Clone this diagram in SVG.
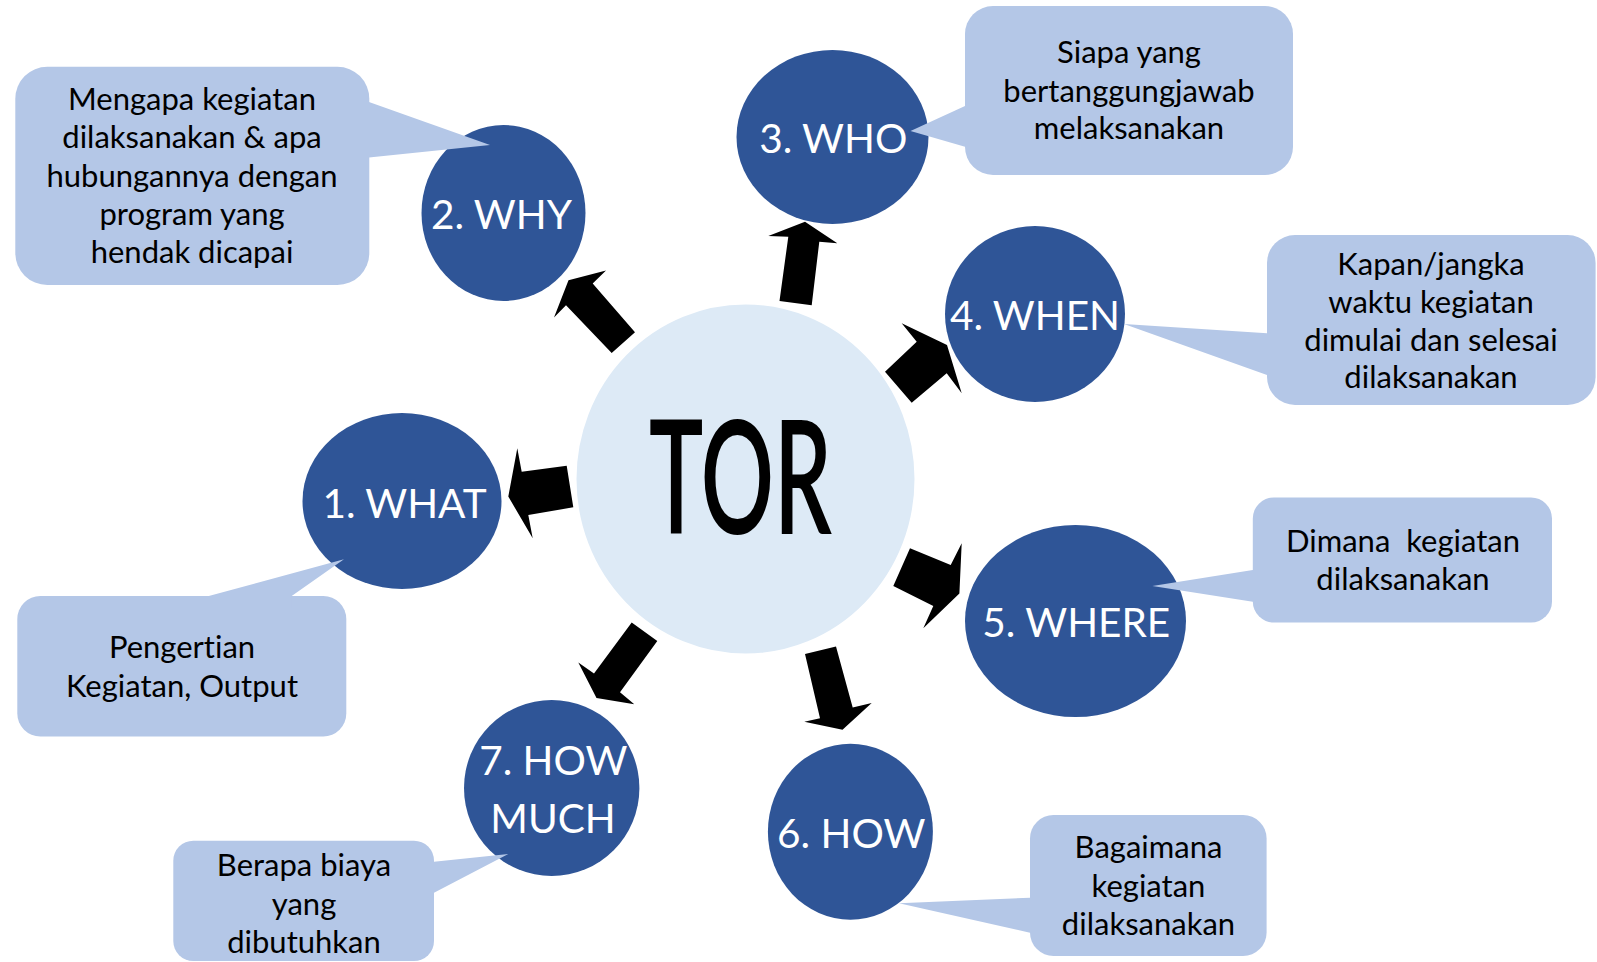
<svg xmlns="http://www.w3.org/2000/svg" width="1597" height="962" viewBox="0 0 1597 962">
<style>
.bg{fill:#FFFFFF}
.arrow{fill:#000000}
.nd{fill:#2F5597}
.lbl{font-family:Lato,"Open Sans","Liberation Sans",sans-serif;font-size:40.5px;fill:#FFFFFF;text-anchor:middle;font-variant-ligatures:none}
.co{fill:#B4C7E7}
.ct{font-family:Lato,"Open Sans","Liberation Sans",sans-serif;font-size:31px;fill:#000000;text-anchor:middle;font-variant-ligatures:none}
.tor{fill:#DDEAF6;stroke:#FFFFFF;stroke-width:3}
.tort{font-family:Lato,"Open Sans","Liberation Sans",sans-serif;font-size:159px;font-weight:600;fill:#000000;text-anchor:middle}
</style>
<rect class="bg" x="0" y="0" width="1597" height="962"/>
<g id="connectors">
  <polygon class="arrow" points="805,221.7 837.3,243.3 819.3,241.7 811.7,305.2 779.5,301 788.3,236.7 768.3,236"/>
  <polygon class="arrow" points="885,371.7 916.7,341.7 901.7,323.3 947,345 961.7,393.3 946.7,373.3 911.7,402.7"/>
  <polygon class="arrow" points="910,548.3 950.7,565 961.7,543.3 959.4,593.4 923.3,628.3 933.3,606 893.3,586"/>
  <polygon class="arrow" points="805,654 836,646.5 852.7,707.4 871.7,703 842.5,729.7 804.3,721.7 820,718.3"/>
  <polygon class="arrow" points="631.7,622.6 657.3,640.9 620,692.2 634.3,704.3 596.5,698 578.3,662.6 594,673.5"/>
  <polygon class="arrow" points="508.3,496.5 517.3,448.3 521.7,471.7 566.7,465.7 573.3,507.3 528.3,515 532.7,538.3"/>
  <polygon class="arrow" points="568.5,280.3 606,270.4 592.7,283.5 635,332.2 611.7,353 566,305.2 554,317.4"/>
</g>
<g id="node-tor">
  <ellipse class="tor" cx="745.5" cy="479" rx="170.5" ry="176"/>
  <text class="tort" x="740.5" y="534" textLength="183" lengthAdjust="spacingAndGlyphs">TOR</text>
</g>
<g id="node-why">
  <ellipse class="nd" cx="503.5" cy="213" rx="82" ry="88"/>
  <text class="lbl" x="501.5" y="228.5">2. WHY</text>
</g>
<g id="node-who">
  <ellipse class="nd" cx="832.5" cy="137" rx="96" ry="87"/>
  <text class="lbl" x="833.3" y="153.3">3. WHO</text>
</g>
<g id="node-when">
  <ellipse class="nd" cx="1035" cy="314" rx="90" ry="88"/>
  <text class="lbl" x="1035" y="330">4. WHEN</text>
</g>
<g id="node-what">
  <ellipse class="nd" cx="402" cy="501" rx="99.5" ry="88"/>
  <text class="lbl" x="404.5" y="518.3">1. WHAT</text>
</g>
<g id="node-where">
  <ellipse class="nd" cx="1075.5" cy="621" rx="110.5" ry="96"/>
  <text class="lbl" x="1076.3" y="637.3">5. WHERE</text>
</g>
<g id="node-how">
  <ellipse class="nd" cx="850.4" cy="831.7" rx="82.5" ry="88"/>
  <text class="lbl" x="851.2" y="848.3">6. HOW</text>
</g>
<g id="node-howmuch">
  <ellipse class="nd" cx="551.7" cy="788" rx="87.7" ry="88"/>
  <text class="lbl" x="553.3" y="775">7. HOW</text>
  <text class="lbl" x="553" y="833.3">MUCH</text>
</g>
<g id="callout-why">
  <rect class="co" x="15.3" y="66.7" width="354" height="218.3" rx="32"/>
  <polygon class="co" points="355,102 369,102 490,145 369,157.5 355,157.5"/>
  <text class="ct" x="192" y="110">Mengapa kegiatan</text>
  <text class="ct" x="192" y="148.3">dilaksanakan &amp; apa</text>
  <text class="ct" x="192" y="186.5">hubungannya dengan</text>
  <text class="ct" x="192" y="224.5">program yang</text>
  <text class="ct" x="192" y="263">hendak dicapai</text>
</g>
<g id="callout-who">
  <rect class="co" x="965" y="6" width="328" height="169" rx="28"/>
  <polygon class="co" points="980,106 965,106 910.5,131 965,146.7 980,146.7"/>
  <text class="ct" x="1129" y="63.3">Siapa yang</text>
  <text class="ct" x="1129" y="101.7">bertanggungjawab</text>
  <text class="ct" x="1129" y="138.8">melaksanakan</text>
</g>
<g id="callout-when">
  <rect class="co" x="1267" y="235" width="328.6" height="170" rx="28"/>
  <polygon class="co" points="1280,333.3 1267,333.3 1124,324 1267,375 1280,375"/>
  <text class="ct" x="1431" y="275">Kapan/jangka</text>
  <text class="ct" x="1431" y="312.5">waktu kegiatan</text>
  <text class="ct" x="1431" y="350.5">dimulai dan selesai</text>
  <text class="ct" x="1431" y="388">dilaksanakan</text>
</g>
<g id="callout-what">
  <rect class="co" x="17.3" y="596" width="329" height="140.4" rx="23"/>
  <polygon class="co" points="208.8,608 208.8,596 344,559.3 291.7,596 291.7,608"/>
  <text class="ct" x="182" y="658">Pengertian</text>
  <text class="ct" x="182" y="696.7">Kegiatan, Output</text>
</g>
<g id="callout-where">
  <rect class="co" x="1252.8" y="497.5" width="299.2" height="125" rx="21"/>
  <polygon class="co" points="1265,570 1252.8,570 1152.4,586 1252.8,601.7 1265,601.7"/>
  <text class="ct" x="1403" y="551.7" xml:space="preserve">Dimana  kegiatan</text>
  <text class="ct" x="1403" y="590">dilaksanakan</text>
</g>
<g id="callout-how">
  <rect class="co" x="1030" y="815" width="236.6" height="141" rx="23.5"/>
  <polygon class="co" points="1042,897.7 1030,897.7 899,903.3 1030,932.7 1042,932.7"/>
  <text class="ct" x="1148.5" y="858.3">Bagaimana</text>
  <text class="ct" x="1148.5" y="896.7">kegiatan</text>
  <text class="ct" x="1148.5" y="935">dilaksanakan</text>
</g>
<g id="callout-howmuch">
  <rect class="co" x="173.3" y="840.7" width="260.7" height="120.3" rx="20"/>
  <polygon class="co" points="422,861.7 434,861.7 508.3,854 434,892.7 422,892.7"/>
  <text class="ct" x="304" y="876">Berapa biaya</text>
  <text class="ct" x="304" y="914.5">yang</text>
  <text class="ct" x="304" y="952.7">dibutuhkan</text>
</g>
</svg>
